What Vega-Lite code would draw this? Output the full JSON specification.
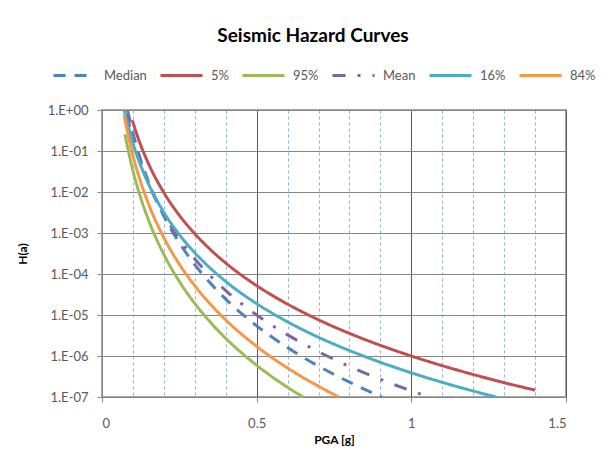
{
  "$schema": "https://vega.github.io/schema/vega-lite/v6.json",
  "width": 464,
  "height": 287,
  "autosize": {"type": "none"},
  "padding": {"left": 102, "top": 110, "right": 49, "bottom": 53},
  "background": "white",
  "title": {"text": "Seismic Hazard Curves", "font": "Lato", "fontSize": 19, "fontWeight": "bold", "color": "#000000", "anchor": "middle", "frame": "group", "dx": -21, "offset": 7},
  "config": {
    "view": {"stroke": "#a6a6a6", "strokeWidth": 2},
    "axis": {"labelFont": "Lato", "labelFontSize": 13, "labelColor": "#595959", "titleFont": "Lato", "titleFontSize": 12, "titleFontWeight": "bold", "titleColor": "#000000"}
  },
  "data": {"values": [
    {"s": "Median", "x": 0.083, "h": 0.964},
    {"s": "Median", "x": 0.1, "h": 0.275},
    {"s": "Median", "x": 0.12, "h": 0.0807},
    {"s": "Median", "x": 0.15, "h": 0.018},
    {"s": "Median", "x": 0.2, "h": 0.00259},
    {"s": "Median", "x": 0.25, "h": 0.000578},
    {"s": "Median", "x": 0.3, "h": 0.000169},
    {"s": "Median", "x": 0.35, "h": 0.00006},
    {"s": "Median", "x": 0.4, "h": 0.0000244},
    {"s": "Median", "x": 0.5, "h": 0.00000545},
    {"s": "Median", "x": 0.6, "h": 0.0000016},
    {"s": "Median", "x": 0.7, "h": 5.65e-7},
    {"s": "Median", "x": 0.8, "h": 2.3e-7},
    {"s": "Median", "x": 0.905, "h": 1.0e-7},
    {"s": "5%", "x": 0.098, "h": 0.562},
    {"s": "5%", "x": 0.12, "h": 0.177},
    {"s": "5%", "x": 0.15, "h": 0.0497},
    {"s": "5%", "x": 0.2, "h": 0.00964},
    {"s": "5%", "x": 0.25, "h": 0.0027},
    {"s": "5%", "x": 0.3, "h": 0.000957},
    {"s": "5%", "x": 0.35, "h": 0.000397},
    {"s": "5%", "x": 0.4, "h": 0.000185},
    {"s": "5%", "x": 0.5, "h": 0.000052},
    {"s": "5%", "x": 0.6, "h": 0.0000184},
    {"s": "5%", "x": 0.7, "h": 0.00000764},
    {"s": "5%", "x": 0.8, "h": 0.00000356},
    {"s": "5%", "x": 0.9, "h": 0.00000182},
    {"s": "5%", "x": 1.0, "h": 0.000001},
    {"s": "5%", "x": 1.1, "h": 5.81e-7},
    {"s": "5%", "x": 1.2, "h": 3.54e-7},
    {"s": "5%", "x": 1.3, "h": 2.24e-7},
    {"s": "5%", "x": 1.4, "h": 1.47e-7},
    {"s": "95%", "x": 0.074, "h": 0.256},
    {"s": "95%", "x": 0.1, "h": 0.0331},
    {"s": "95%", "x": 0.12, "h": 0.00959},
    {"s": "95%", "x": 0.15, "h": 0.00211},
    {"s": "95%", "x": 0.2, "h": 0.000299},
    {"s": "95%", "x": 0.25, "h": 0.0000658},
    {"s": "95%", "x": 0.3, "h": 0.0000191},
    {"s": "95%", "x": 0.35, "h": 0.0000067},
    {"s": "95%", "x": 0.4, "h": 0.0000027},
    {"s": "95%", "x": 0.5, "h": 5.94e-7},
    {"s": "95%", "x": 0.6, "h": 1.72e-7},
    {"s": "95%", "x": 0.65, "h": 1.0e-7},
    {"s": "Mean", "x": 0.08, "h": 0.787},
    {"s": "Mean", "x": 0.1, "h": 0.2},
    {"s": "Mean", "x": 0.12, "h": 0.065},
    {"s": "Mean", "x": 0.15, "h": 0.0165},
    {"s": "Mean", "x": 0.2, "h": 0.00281},
    {"s": "Mean", "x": 0.25, "h": 0.000713},
    {"s": "Mean", "x": 0.3, "h": 0.000232},
    {"s": "Mean", "x": 0.35, "h": 0.0000899},
    {"s": "Mean", "x": 0.4, "h": 0.0000395},
    {"s": "Mean", "x": 0.5, "h": 0.00001},
    {"s": "Mean", "x": 0.6, "h": 0.00000327},
    {"s": "Mean", "x": 0.7, "h": 0.00000127},
    {"s": "Mean", "x": 0.8, "h": 5.57e-7},
    {"s": "Mean", "x": 0.9, "h": 2.7e-7},
    {"s": "Mean", "x": 1.0, "h": 1.41e-7},
    {"s": "Mean", "x": 1.058, "h": 1.0e-7},
    {"s": "16%", "x": 0.072, "h": 0.975},
    {"s": "16%", "x": 0.1, "h": 0.155},
    {"s": "16%", "x": 0.12, "h": 0.0557},
    {"s": "16%", "x": 0.15, "h": 0.016},
    {"s": "16%", "x": 0.2, "h": 0.00319},
    {"s": "16%", "x": 0.25, "h": 0.000916},
    {"s": "16%", "x": 0.3, "h": 0.00033},
    {"s": "16%", "x": 0.35, "h": 0.000139},
    {"s": "16%", "x": 0.4, "h": 0.0000658},
    {"s": "16%", "x": 0.5, "h": 0.0000189},
    {"s": "16%", "x": 0.6, "h": 0.00000679},
    {"s": "16%", "x": 0.7, "h": 0.00000286},
    {"s": "16%", "x": 0.8, "h": 0.00000136},
    {"s": "16%", "x": 0.9, "h": 7.02e-7},
    {"s": "16%", "x": 1.0, "h": 3.89e-7},
    {"s": "16%", "x": 1.1, "h": 2.28e-7},
    {"s": "16%", "x": 1.2, "h": 1.4e-7},
    {"s": "16%", "x": 1.275, "h": 1.0e-7},
    {"s": "84%", "x": 0.071, "h": 0.759},
    {"s": "84%", "x": 0.1, "h": 0.0776},
    {"s": "84%", "x": 0.12, "h": 0.0231},
    {"s": "84%", "x": 0.15, "h": 0.00521},
    {"s": "84%", "x": 0.2, "h": 0.000767},
    {"s": "84%", "x": 0.25, "h": 0.000174},
    {"s": "84%", "x": 0.3, "h": 0.0000516},
    {"s": "84%", "x": 0.35, "h": 0.0000185},
    {"s": "84%", "x": 0.4, "h": 0.00000759},
    {"s": "84%", "x": 0.5, "h": 0.00000172},
    {"s": "84%", "x": 0.6, "h": 5.09e-7},
    {"s": "84%", "x": 0.7, "h": 1.83e-7},
    {"s": "84%", "x": 0.765, "h": 1.0e-7}
  ]},
  "resolve": {"axis": {"x": "independent", "y": "independent"}},
  "layer": [
    {
      "mark": {"type": "point", "opacity": 0},
      "encoding": {
        "x": {"field": "x", "type": "quantitative", "scale": {"domain": [0, 1.5], "nice": false},
              "axis": {"orient": "bottom", "values": [0.1, 0.2, 0.3, 0.4, 0.6, 0.7, 0.8, 0.9, 1.1, 1.2, 1.3, 1.4], "grid": true, "gridColor": "#8DB4E2", "gridDash": [3, 3], "gridWidth": 1, "labels": false, "ticks": false, "domain": false, "title": null}},
        "y": {"field": "h", "type": "quantitative", "scale": {"type": "log", "domain": [1e-7, 1], "nice": false}, "axis": null}
      }
    },
    {
      "mark": {"type": "line", "strokeWidth": 3, "interpolate": "monotone"},
      "encoding": {
        "x": {"field": "x", "type": "quantitative", "scale": {"domain": [0, 1.5], "nice": false},
              "axis": {"orient": "bottom", "values": [0, 0.5, 1, 1.5], "grid": true, "gridColor": "#595959", "gridWidth": 1, "domainColor": "#868686", "tickColor": "#868686", "tickSize": 5, "labelPadding": 15, "title": "PGA [g]", "titlePadding": 4, "labelExpr": "datum.value == 0 ? '0' : format(datum.value, '')"}},
        "y": {"field": "h", "type": "quantitative", "scale": {"type": "log", "domain": [1e-7, 1], "nice": false},
              "axis": {"orient": "left", "values": [1, 0.1, 0.01, 0.001, 0.0001, 0.00001, 0.000001, 1e-7], "grid": true, "gridColor": "#868686", "gridWidth": 1, "domainColor": "#868686", "tickColor": "#868686", "tickSize": 5, "labelPadding": 9, "title": "H(a)", "titlePadding": 18, "labelExpr": "datum.value >= 1 ? '1.E+00' : '1.E-0' + toString(round(-log(datum.value) / LN10))"}},
        "color": {"field": "s", "type": "nominal",
                  "scale": {"domain": ["Median", "5%", "95%", "Mean", "16%", "84%"], "range": ["#4F81BD", "#C0504D", "#9BBB59", "#8064A2", "#4BACC6", "#F79646"]},
                  "legend": {"orient": "none", "direction": "horizontal", "legendX": -50, "legendY": -57, "title": null, "gridAlign": "none", "symbolType": "stroke", "symbolSize": 1764, "symbolStrokeWidth": 3, "labelFont": "Lato", "labelFontSize": 13, "labelColor": "#595959", "labelOffset": 7, "columnPadding": 7}},
        "strokeDash": {"field": "s", "type": "nominal",
                  "scale": {"domain": ["Median", "5%", "95%", "Mean", "16%", "84%"], "range": [[12, 9], [1, 0], [1, 0], [13, 12, 3, 12], [1, 0], [1, 0]]},
                  "legend": {"orient": "none", "direction": "horizontal", "legendX": -50, "legendY": -57, "title": null, "gridAlign": "none", "symbolType": "stroke", "symbolSize": 1764, "symbolStrokeWidth": 3, "labelFont": "Lato", "labelFontSize": 13, "labelColor": "#595959", "labelOffset": 7, "columnPadding": 7}}
      }
    }
  ]
}
